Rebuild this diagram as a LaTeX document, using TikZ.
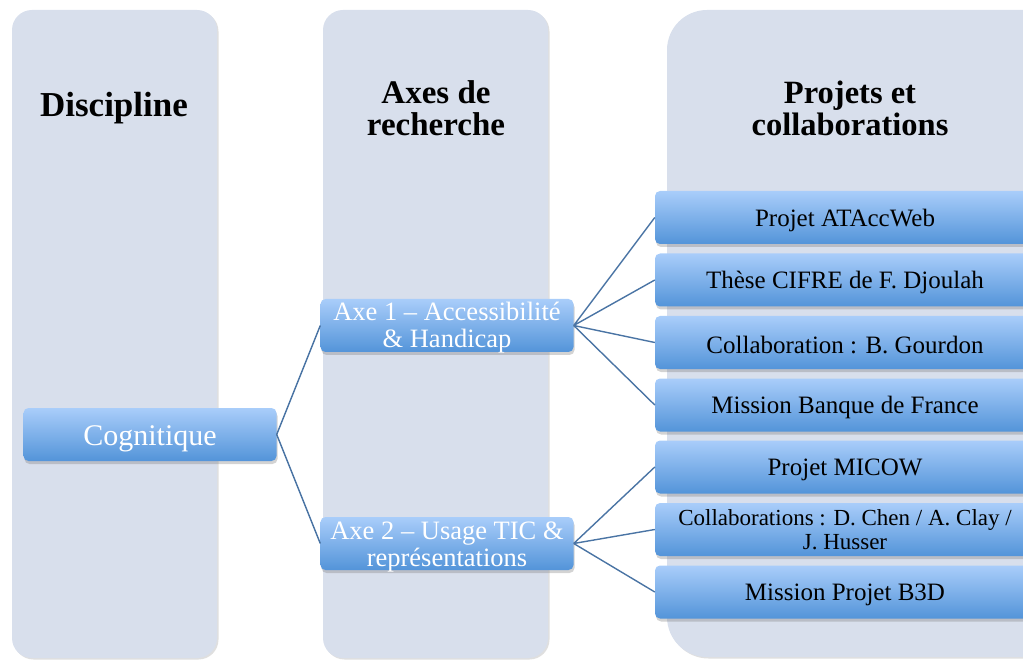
\documentclass[tikz,border=0pt]{standalone}
\usepackage{fontspec}
\setmainfont{Liberation Serif}
\usetikzlibrary{shadows}
\definecolor{colbg}{HTML}{D8DFEC}
\definecolor{boxtop}{HTML}{A9CDFA}
\definecolor{boxbot}{HTML}{5394D9}
\definecolor{linkblue}{HTML}{4A74A4}
\newcommand{\lift}[1]{\rule{0pt}{#1}}
\tikzset{
  column/.style={fill=colbg, drop shadow={opacity=0.25, shadow xshift=1.5pt, shadow yshift=-1.5pt}},
  heading/.style={font=\fontsize{#1}{32}\selectfont\bfseries, align=center},
  bluebox/.style={rectangle, rounded corners=5pt, top color=boxtop, bottom color=boxbot,
    minimum height=53pt, inner sep=0pt, align=center,
    drop shadow={opacity=0.35, shadow xshift=1pt, shadow yshift=-3pt}},
  sink/.style={execute at begin node={\lift{0.93em}}},
  mainbox/.style={bluebox, minimum width=253pt, text=white},
  twoline/.style={text height=49pt, text depth=4pt},
  itembox/.style={bluebox, minimum width=380pt, font=\fontsize{25}{24}\selectfont},
  link/.style={draw=linkblue, line width=1.4pt},
}

\begin{document}
\begin{tikzpicture}[x=1pt,y=-1pt]
      \useasboundingbox (0,0) rectangle (1023,660);
      \clip (0,0) rectangle (1023,660);

      % columns
      \path[column, rounded corners=20pt] (12,10) rectangle (217,658);
      \path[column, rounded corners=20pt] (323,10) rectangle (548,658);
      \path[column, rounded corners=40pt] (667,10) rectangle (1070,657);

      \node[heading=35] (hdisc) at (114,108) {Discipline};
      \node[heading=33] (haxes) at (436,108) {Axes de\\recherche};
      \node[heading=32.5] (hproj) at (850,108) {Projets et\\collaborations};

      % levels
      \node[mainbox, sink, font=\fontsize{30}{30}\selectfont] (cog) at (150,434.5) {Cognitique};
      \node[mainbox, twoline, font=\fontsize{26.5}{27}\selectfont] (ax1) at (447,325.5) {Axe 1 -- Accessibilité\\\& Handicap};
      \node[mainbox, twoline, font=\fontsize{26.5}{27}\selectfont] (ax2) at (447,543.5) {Axe 2 -- Usage TIC \&\\représentations};

      \node[itembox, sink] (p1) at (845,217.5) {Projet ATAccWeb};
      \node[itembox, sink] (p2) at (845,280)   {Thèse CIFRE de F. Djoulah};
      \node[itembox, sink] (p3) at (845,342.5) {Collaboration : B. Gourdon};
      \node[itembox, sink] (p4) at (845,405)   {Mission Banque de France};
      \node[itembox, sink] (p5) at (845,467)   {Projet MICOW};
      \node[itembox, font=\fontsize{23}{24}\selectfont] (p6) at (845,529.5) {Collaborations : D. Chen / A. Clay /\\J. Husser};
      \node[itembox, sink] (p7) at (845,592)   {Mission Projet B3D};

      \draw[link] (cog.east) -- (ax1.west)
                  (cog.east) -- (ax2.west)
                  (ax1.east) -- (p1.west)
                  (ax1.east) -- (p2.west)
                  (ax1.east) -- (p3.west)
                  (ax1.east) -- (p4.west)
                  (ax2.east) -- (p5.west)
                  (ax2.east) -- (p6.west)
                  (ax2.east) -- (p7.west);
\end{tikzpicture}
\end{document}
